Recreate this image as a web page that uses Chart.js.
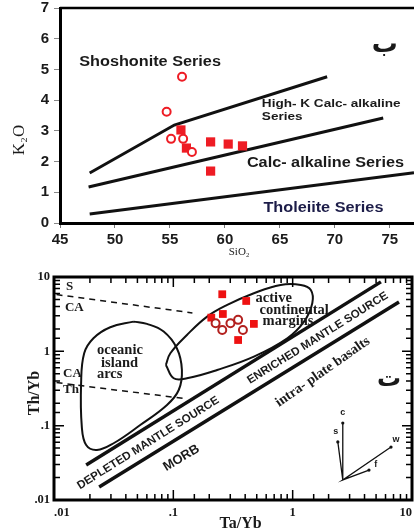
<!DOCTYPE html>
<html>
<head>
<meta charset="utf-8">
<script src="https://cdn.jsdelivr.net/npm/chart.js@4/dist/chart.umd.min.js"></script>
<style>
  body { margin: 0; background: #fff; }
  canvas { position: absolute; left: 0; }
  #k2oChart { top: 0; }
  #thybChart { top: 260px; }
</style>
</head>
<body>
<canvas id="k2oChart" width="414" height="262"></canvas>
<canvas id="thybChart" width="414" height="270"></canvas>
<script>
// ---- upper panel: K2O vs SiO2 ----
const sio2Open = [56.1, 54.7, 55.1, 56.2, 57.0];
const k2oOpen = [4.76, 3.62, 2.74, 2.74, 2.31];
const sio2Filled = [56.0, 56.5, 58.7, 60.3, 61.6, 58.7];
const k2oFilled = [3.03, 2.44, 2.64, 2.57, 2.51, 1.69];
const shoshoniteX = [47.7, 55.4, 69.3];
const shoshoniteY = [1.63, 3.19, 4.76];
const highKX = [47.6, 74.4];
const highKY = [1.17, 3.42];
const tholeiiteX = [47.7, 77.2];
const tholeiiteY = [0.29, 1.64];
const sio2Ticks = [45, 50, 55, 60, 65, 70, 75];

// ---- lower panel: Th/Yb vs Ta/Yb ----
const taybFilled = [0.257, 0.408, 0.260, 0.208, 0.473, 0.349];
const thybFilled = [5.86, 4.76, 3.18, 2.84, 2.34, 1.42];
const taybOpen = [0.226, 0.257, 0.301, 0.349, 0.383];
const thybOpen = [2.39, 1.94, 2.39, 2.65, 1.94];
const upperTrendX = [0.0186, 5.49];
const upperTrendY = [0.0296, 8.6];
const lowerTrendX = [0.0239, 7.78];
const lowerTrendY = [0.015, 4.62];
const dashCaX = [0.0105, 0.1445];
const dashCaY = [5.8, 3.29];
const dashThX = [0.0105, 0.131];
const dashThY = [0.38, 0.229];
const arcFieldX = [0.0464, 0.0296, 0.0214, 0.0179, 0.01687, 0.0171, 0.0186, 0.0229, 0.0316, 0.0528, 0.0885, 0.111, 0.118, 0.107, 0.083, 0.0601, 0.0464];
const arcFieldY = [2.51, 2.11, 1.50, 0.942, 0.372, 0.097, 0.0549, 0.0471, 0.058, 0.102, 0.190, 0.302, 0.562, 1.10, 1.85, 2.34, 2.51];
const marginFieldX = [0.0866, 0.1007, 0.130, 0.233, 0.473, 0.902, 1.245, 1.46, 1.42, 1.17, 0.792, 0.473, 0.283, 0.192, 0.130, 0.0944, 0.0866];
const marginFieldY = [0.656, 0.434, 0.434, 0.562, 0.849, 1.50, 2.51, 4.44, 6.70, 7.83, 7.83, 6.05, 4.21, 2.93, 1.66, 0.942, 0.656];
// vector legend: origin -> c, s, w, f
const vectorX = [2.63, 2.63, 2.63, 2.39, 2.63, 6.67, 2.63, 4.36];
const vectorY = [0.0186, 0.1086, 0.0186, 0.0604, 0.0186, 0.0516, 0.0186, 0.0253];
const logLabels = { '-2': '.01', '-1': '.1', '0': '1', '1': '10' };

const xy = (xs, ys) => xs.map((x, i) => ({ x, y: ys[i] }));
const isPow10 = v => Math.abs(Math.log10(v) - Math.round(Math.log10(v))) < 1e-6;

function notes(items) {
  return {
    id: 'notes',
    afterDatasetsDraw(chart) {
      const { ctx, scales: { x, y } } = chart;
      items.forEach(n => {
        ctx.save();
        ctx.translate(x.getPixelForValue(n.x), y.getPixelForValue(n.y));
        if (n.angle) ctx.rotate(n.angle * Math.PI / 180);
        if (n.sx) ctx.scale(n.sx, 1);
        ctx.font = n.font;
        ctx.fillStyle = n.color || '#1a1a1a';
        ctx.textAlign = n.align || 'left';
        ctx.textBaseline = 'middle';
        ctx.fillText(n.text, 0, 0);
        ctx.restore();
      });
    }
  };
}

const lineSet = (data, width, extra) => Object.assign({
  data, showLine: true, pointRadius: 0, borderColor: '#111', borderWidth: width, fill: false
}, extra || {});

// top frame line for the upper panel
const topLine = {
  id: 'topLine',
  afterDraw(chart) {
    const { ctx, chartArea: a } = chart;
    ctx.save();
    ctx.strokeStyle = '#000';
    ctx.lineWidth = 2.5;
    ctx.beginPath();
    ctx.moveTo(a.left, a.top);
    ctx.lineTo(a.right, a.top);
    ctx.stroke();
    ctx.restore();
  }
};

// box with inward log ticks for the lower panel
const logFrame = {
  id: 'logFrame',
  afterDraw(chart) {
    const { ctx, chartArea: a, scales: { x, y } } = chart;
    ctx.save();
    ctx.strokeStyle = '#000';
    ctx.lineWidth = 1.5;
    ctx.beginPath();
    x.ticks.forEach(t => {
      const p = x.getPixelForValue(t.value);
      const len = isPow10(t.value) ? 10 : 6;
      ctx.moveTo(p, a.bottom); ctx.lineTo(p, a.bottom - len);
      ctx.moveTo(p, a.top); ctx.lineTo(p, a.top + len);
    });
    y.ticks.forEach(t => {
      const p = y.getPixelForValue(t.value);
      const len = isPow10(t.value) ? 10 : 6;
      ctx.moveTo(a.left, p); ctx.lineTo(a.left + len, p);
      ctx.moveTo(a.right, p); ctx.lineTo(a.right - len, p);
    });
    ctx.stroke();
    ctx.lineWidth = 3;
    ctx.strokeRect(a.left, a.top, a.right - a.left, a.bottom - a.top);
    ctx.restore();
  }
};

const sansBold = px => 'bold ' + px + 'px "Liberation Sans", Arial, sans-serif';
const serifBold = px => 'bold ' + px + 'px "Liberation Serif", "Times New Roman", serif';

const topNotes = [
  { text: 'Shoshonite Series', x: 46.75, y: 5.24, font: sansBold(14), sx: 1.16 },
  { text: 'High- K Calc- alkaline', x: 63.36, y: 3.88, font: sansBold(11.5), sx: 1.18 },
  { text: 'Series', x: 63.36, y: 3.45, font: sansBold(11.5), sx: 1.18 },
  { text: 'Calc- alkaline Series', x: 62.0, y: 1.95, font: sansBold(14), sx: 1.16 },
  { text: 'Tholeiite Series', x: 63.5, y: 0.49, font: sansBold(14), sx: 1.16, color: '#1c1c48' },
  { text: 'ب', x: 74.55, y: 5.8, font: 'bold 26px "DejaVu Sans", sans-serif', align: 'center' },
  { text: 'K₂O', x: 41.35, y: 2.7, font: '17px "Liberation Serif", serif', align: 'center', angle: -90 },
  { text: 'SiO₂', x: 61.3, y: -0.94, font: '11px "Liberation Serif", serif', align: 'center' }
];

const bottomNotes = [
  { text: 'S', x: 0.0126, y: 7.36, font: serifBold(13) },
  { text: 'CA', x: 0.01236, y: 3.84, font: serifBold(13) },
  { text: 'CA', x: 0.0119, y: 0.496, font: serifBold(13) },
  { text: 'Th', x: 0.0119, y: 0.302, font: serifBold(13) },
  { text: 'oceanic', x: 0.0229, y: 1.045, font: serifBold(14.5) },
  { text: 'island', x: 0.0248, y: 0.699, font: serifBold(14.5) },
  { text: 'arcs', x: 0.0229, y: 0.496, font: serifBold(14.5) },
  { text: 'active', x: 0.489, y: 5.24, font: serifBold(14.5) },
  { text: 'continental', x: 0.528, y: 3.61, font: serifBold(14.5) },
  { text: 'margins', x: 0.560, y: 2.56, font: serifBold(14.5) },
  { text: 'ENRICHED MANTLE SOURCE', x: 1.62, y: 1.51, font: sansBold(11.5), align: 'center', angle: -32 },
  { text: 'DEPLETED MANTLE SOURCE', x: 0.0616, y: 0.0584, font: sansBold(11.5), align: 'center', angle: -32 },
  { text: 'intra- plate basalts', x: 1.79, y: 0.528, font: serifBold(14), align: 'center', angle: -35 },
  { text: 'MORB', x: 0.1167, y: 0.0367, font: sansBold(13), align: 'center', angle: -31 },
  { text: 'ت', x: 6.41, y: 0.412, font: 'bold 24px "DejaVu Sans", sans-serif', align: 'center' },
  { text: 'c', x: 2.63, y: 0.148, font: sansBold(9), align: 'center' },
  { text: 's', x: 2.30, y: 0.0822, font: sansBold(9), align: 'center' },
  { text: 'w', x: 7.35, y: 0.0643, font: sansBold(9), align: 'center' },
  { text: 'f', x: 4.98, y: 0.0296, font: sansBold(9), align: 'center' },
  { text: 'Th/Yb', x: 0.0069, y: 0.275, font: serifBold(16), align: 'center', angle: -90 },
  { text: 'Ta/Yb', x: 0.366, y: 0.0048, font: serifBold(16), align: 'center' }
];

new Chart(document.getElementById('k2oChart').getContext('2d'), {
  type: 'scatter',
  data: {
    datasets: [
      { data: xy(sio2Open, k2oOpen), pointStyle: 'circle', pointRadius: 4, borderWidth: 2,
        borderColor: '#ee1c24', backgroundColor: '#fff' },
      { data: xy(sio2Filled, k2oFilled), pointStyle: 'rect', pointRadius: 6.5, borderWidth: 0,
        borderColor: '#ee1c24', backgroundColor: '#ee1c24' },
      lineSet(xy(shoshoniteX, shoshoniteY), 3),
      lineSet(xy(highKX, highKY), 3),
      lineSet(xy(tholeiiteX, tholeiiteY), 3)
    ]
  },
  options: {
    responsive: false,
    animation: false,
    layout: { autoPadding: false, padding: { top: 8, right: 0, left: 0, bottom: 0 } },
    plugins: { legend: { display: false }, tooltip: { enabled: false } },
    scales: {
      x: {
        type: 'linear', min: 45, max: 77.2,
        afterBuildTicks: s => { s.ticks = sio2Ticks.map(v => ({ value: v })); },
        ticks: { font: { family: '"Liberation Sans", Arial', size: 15, weight: 'bold' }, color: '#1a1a1a', padding: 3, maxRotation: 0 },
        grid: { drawOnChartArea: false, tickLength: 5, color: '#777' },
        border: { color: '#000', width: 3 },
        afterFit: s => { s.height = 39; s.paddingLeft = 0; s.paddingRight = 0; }
      },
      y: {
        type: 'linear', min: 0, max: 7,
        ticks: { stepSize: 1, font: { family: '"Liberation Sans", Arial', size: 15, weight: 'bold' }, color: '#1a1a1a', padding: 5 },
        grid: { drawOnChartArea: false, tickLength: 6, color: '#888' },
        border: { color: '#000', width: 3 },
        afterFit: s => { s.width = 60; s.paddingTop = 0; s.paddingBottom = 0; }
      }
    }
  },
  plugins: [topLine, notes(topNotes)]
});

new Chart(document.getElementById('thybChart').getContext('2d'), {
  type: 'scatter',
  data: {
    datasets: [
      { data: xy(taybOpen, thybOpen), pointStyle: 'circle', pointRadius: 4, borderWidth: 2,
        borderColor: '#b3201e', backgroundColor: '#fff' },
      { data: xy(taybFilled, thybFilled), pointStyle: 'rect', pointRadius: 5.5, borderWidth: 0,
        borderColor: '#ee1111', backgroundColor: '#ee1111' },
      lineSet(xy(vectorX, vectorY), 1.3, { pointRadius: [0, 1.6, 0, 1.6, 0, 1.6, 0, 1.6], pointBackgroundColor: '#111', pointBorderWidth: 0 }),
      lineSet(xy(arcFieldX, arcFieldY), 2, { tension: 0.4 }),
      lineSet(xy(marginFieldX, marginFieldY), 2, { tension: 0.4 }),
      lineSet(xy(upperTrendX, upperTrendY), 3.5),
      lineSet(xy(lowerTrendX, lowerTrendY), 3.5),
      lineSet(xy(dashCaX, dashCaY), 1.5, { borderDash: [6, 5] }),
      lineSet(xy(dashThX, dashThY), 1.5, { borderDash: [6, 5] })
    ]
  },
  options: {
    responsive: false,
    animation: false,
    layout: { autoPadding: false, padding: { top: 17, right: 2, left: 0, bottom: 0 } },
    plugins: { legend: { display: false }, tooltip: { enabled: false } },
    scales: {
      x: {
        type: 'logarithmic', min: 0.01, max: 10,
        ticks: { autoSkip: false, maxRotation: 0, align: 'inner', padding: 5, color: '#1a1a1a',
          font: { family: '"Liberation Serif", serif', size: 12.5, weight: 'bold' },
          callback: v => isPow10(v) ? logLabels[Math.round(Math.log10(v))] : '' },
        grid: { drawOnChartArea: false, drawTicks: false },
        border: { display: false },
        afterFit: s => { s.height = 30; s.paddingLeft = 0; s.paddingRight = 0; }
      },
      y: {
        type: 'logarithmic', min: 0.01, max: 10,
        ticks: { autoSkip: false, padding: 4, color: '#1a1a1a',
          font: { family: '"Liberation Serif", serif', size: 12.5, weight: 'bold' },
          callback: v => isPow10(v) ? logLabels[Math.round(Math.log10(v))] : '' },
        grid: { drawOnChartArea: false, drawTicks: false },
        border: { display: false },
        afterFit: s => { s.width = 54; s.paddingTop = 0; s.paddingBottom = 0; }
      }
    }
  },
  plugins: [logFrame, notes(bottomNotes)]
});
</script>
</body>
</html>
